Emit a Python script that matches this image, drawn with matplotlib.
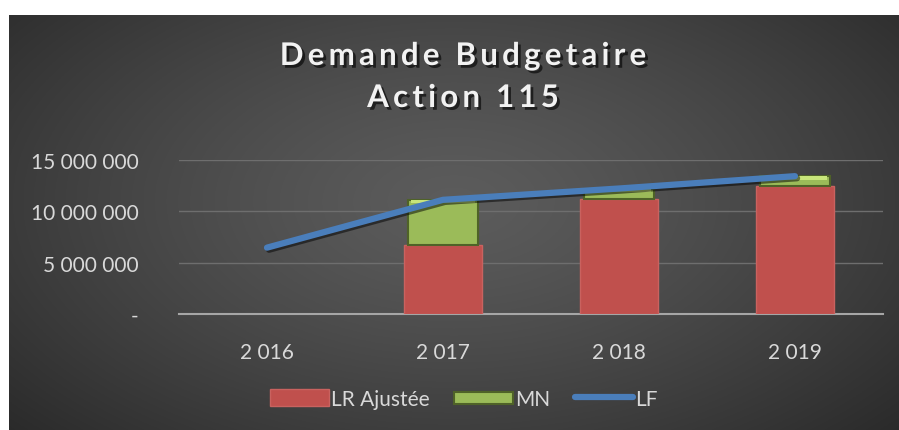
import numpy as np
import matplotlib
matplotlib.use("Agg")
import matplotlib.pyplot as plt
import matplotlib.patheffects as pe
from matplotlib.patches import Patch, Rectangle
from matplotlib.lines import Line2D
from matplotlib.legend_handler import HandlerPatch
from matplotlib.font_manager import FontProperties, findfont
from matplotlib.ft2font import FT2Font

# =========================
# DATOS
# =========================
annees = ["2 016", "2 017", "2 018", "2 019"]
lr_ajustee = [np.nan, 6700000, 11150000, 12450000]
mn = [np.nan, 4400000, 1050000, 950000]
lf = [6450000, 11100000, 12200000, 13400000]
yticks = [0, 5000000, 10000000, 15000000]
ytick_labels = ["-", "5 000 000", "10 000 000", "15 000 000"]
titre = ["Demande Budgetaire", "Action 115"]

plt.rcParams["font.family"] = ["Lato", "DejaVu Sans"]
DPI = 100

fig = plt.figure(figsize=(8.99, 4.31), dpi=DPI)
fig.patch.set_facecolor("white")
W, H = 899, 431

# fond en dégradé radial
bg = fig.add_axes([9 / W, 0, 1 - 9 / W, 415 / H])
yy, xx = np.mgrid[0:1:300j, 0:1:600j]
d = np.sqrt(((xx - 0.5) / 0.75) ** 2 + ((yy - 0.45) / 0.9) ** 2)
g = np.clip(0.36 - 0.22 * d ** 1.3, 0.14, 0.36)
bg.imshow(np.dstack([g, g, g]), aspect="auto", extent=[0, 1, 0, 1])
bg.set_axis_off()

ax = fig.add_axes([179 / W, 1 - 315 / H, 704 / W, (315 - 160.7) / H])
ax.set_facecolor("none")
x = np.arange(len(annees))

ax.bar(x, lr_ajustee, width=0.44, color="#C0504D", edgecolor="#C9625F",
       linewidth=1, zorder=3)
ax.bar(x, mn, width=0.40, bottom=lr_ajustee, color="#9BBB59",
       edgecolor="#4F6228", linewidth=1.5, zorder=3)
# reflet clair en haut des barres MN
haut = [a + b for a, b in zip(lr_ajustee, mn)]
reflet = [min(b, 350000) for b in mn]
ax.bar(x, reflet, width=0.36, bottom=[h - r for h, r in zip(haut, reflet)],
       color="#C8E57A", edgecolor="none", zorder=4)

ax.plot(x, lf, color="#4A7EBB", linewidth=4.5, solid_capstyle="round",
        zorder=5, path_effects=[pe.SimpleLineShadow(offset=(1.5, -1.5), alpha=0.5),
                                pe.Normal()])

ax.set_xlim(-0.5, 3.5)
ax.set_ylim(0, 15000000)
ax.set_yticks(yticks)
ax.set_yticklabels(ytick_labels)
ax.set_xticks(x)
ax.set_xticklabels(annees)
ax.tick_params(axis="both", length=0, colors="#D9D9D9", labelsize=15)
ax.tick_params(axis="y", pad=29)
ax.tick_params(axis="x", pad=20)
ax.grid(axis="y", color="#6E6E6E", linewidth=1, zorder=0)
for s in ["top", "right", "left"]:
    ax.spines[s].set_visible(False)
ax.spines["bottom"].set_color("#A6A6A6")
ax.spines["bottom"].set_linewidth(1.5)
ax.spines["bottom"].set_zorder(2)


# titre avec espacement des lettres
def texte_espace(txt, xc, y_base, taille, espace):
    fp = FontProperties(family="Lato", weight="bold")
    ft = FT2Font(findfont(fp))
    ft.set_size(taille, DPI)
    avances = [ft.load_char(ord(c)).linearHoriAdvance / 65536 for c in txt]
    total = sum(avances) + espace * (len(txt) - 1)
    xp = xc - total / 2
    ombre = [pe.withSimplePatchShadow(offset=(2, -2), shadow_rgbFace="black",
                                      alpha=0.6)]
    for c, a in zip(txt, avances):
        if c != " ":
            fig.text(xp / W, 1 - y_base / H, c, ha="left", va="baseline",
                     fontproperties=fp, fontsize=taille, color="#F2F2F2",
                     path_effects=ombre)
        xp += a + espace


texte_espace(titre[0], 463, 66, 22.5, 4.2)
texte_espace(titre[1], 463, 108, 22.5, 4.2)


class HandlerMN(HandlerPatch):
    def create_artists(self, legend, orig_handle, xdescent, ydescent, width,
                       height, fontsize, trans):
        h = height * 0.7
        p = Rectangle((-xdescent, -ydescent + (height - h) / 2), width, h,
                      facecolor="#9BBB59", edgecolor="#4F6228", linewidth=1.5,
                      transform=trans)
        return [p]


patch_lr = Patch(facecolor="#C0504D", edgecolor="#C9625F")
patch_mn = Patch(facecolor="#9BBB59", edgecolor="#4F6228", linewidth=1.5)
ligne_lf = Line2D([0], [0], color="#4A7EBB", linewidth=4.5, solid_capstyle="round")
leg = fig.legend([patch_lr, patch_mn, ligne_lf], ["LR Ajustée", "MN", "LF"],
                 loc="center", bbox_to_anchor=(464 / W, 1 - 400 / H), ncol=3,
                 frameon=False, fontsize=15, labelcolor="#D9D9D9",
                 handlelength=2.8, handletextpad=0.1, columnspacing=1.2,
                 handleheight=0.9, handler_map={patch_mn: HandlerMN()})

fig.savefig("out.png", dpi=DPI, facecolor=fig.get_facecolor())
